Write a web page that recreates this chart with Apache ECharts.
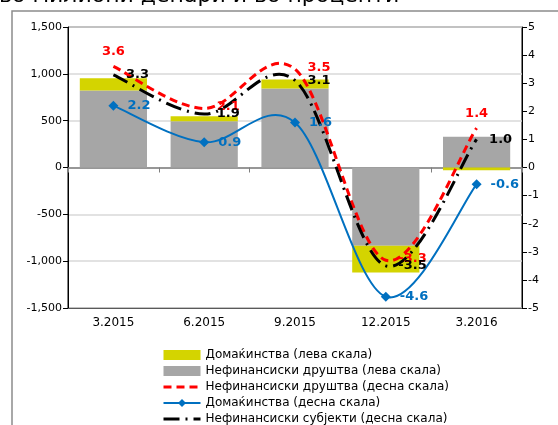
<!DOCTYPE html>
<html>
<head>
<meta charset="utf-8">
<script src="https://cdn.jsdelivr.net/npm/echarts@6/dist/echarts.min.js"></script>
<style>html,body{margin:0;padding:0;background:#fff}#c{width:558px;height:425px}</style>
</head>
<body>
<div id="c"></div>
<script>
const titleText = 'во милиони денари и во проценти';
const categories = ['3.2015', '6.2015', '9.2015', '12.2015', '3.2016'];
const hhLeft = [130, 55, 97, -286, -30];
const nfcLeft = [822, 493, 843, -836, 329];
const nfcRight = [3.6, 2.1, 3.5, -3.3, 1.4];
const hhRight = [2.2, 0.9, 1.6, -4.6, -0.6];
const nfsRight = [3.3, 1.9, 3.1, -3.5, 1.0];
const leftTicks = { min: -1500, max: 1500, interval: 500 };
const rightTicks = { min: -5, max: 5, interval: 1 };
const names = [
  'Домаќинства (лева скала)',
  'Нефинансиски друштва (лева скала)',
  'Нефинансиски друштва (десна скала)',
  'Домаќинства (десна скала)',
  'Нефинансиски субјекти (десна скала)'
];

const FONT = 'DejaVu Sans';
const RED = '#ff0000', BLUE = '#0070c0', BLACK = '#000000';
const RED_DASH = [8, 5], BLACK_DASH = [16, 6, 2, 6];
const chart = echarts.init(document.getElementById('c'), null, { renderer: 'canvas' });
const fmt = v => v.toLocaleString('en-US');
const lbl = (color, dist) => ({ show: true, position: 'right', distance: dist, color: color, fontFamily: FONT, fontWeight: 'bold', fontSize: 13, formatter: p => p.value.toFixed(1) });

// Smooth (Catmull-Rom style) curve through the library-mapped points
function curve(name, arr, color, width, dash, z) {
  return {
    name: name + '#curve', type: 'custom', xAxisIndex: 0, yAxisIndex: 1, data: arr, z: z, silent: true,
    renderItem: (params, api) => {
      if (params.dataIndex !== 0) return null;
      const pts = arr.map((v, i) => api.coord([i, v]));
      const n = pts.length;
      let d = 'M' + pts[0][0] + ',' + pts[0][1];
      for (let i = 0; i < n - 1; i++) {
        const p0 = pts[Math.max(i - 1, 0)], p1 = pts[i], p2 = pts[i + 1], p3 = pts[Math.min(i + 2, n - 1)];
        const c1 = [p1[0] + (p2[0] - p0[0]) / 6, p1[1] + (p2[1] - p0[1]) / 6];
        const c2 = [p2[0] - (p3[0] - p1[0]) / 6, p2[1] - (p3[1] - p1[1]) / 6];
        d += ' C' + c1[0] + ',' + c1[1] + ' ' + c2[0] + ',' + c2[1] + ' ' + p2[0] + ',' + p2[1];
      }
      return { type: 'path', shape: { pathData: d }, style: { stroke: color, lineWidth: width, lineDash: dash, fill: null } };
    }
  };
}

chart.setOption({
  animation: false,
  title: { text: titleText, left: -1, top: -15, padding: 0, textStyle: { fontFamily: FONT, fontSize: 22, fontWeight: 'normal', color: '#000' } },
  graphic: [
    { type: 'polyline', shape: { points: [[12, 425], [12, 11], [558, 11]] }, style: { stroke: '#8c8c8c', lineWidth: 1.5, fill: null } }
  ],
  grid: { left: 68, right: 36, top: 27, bottom: 117, show: true, borderColor: '#000', borderWidth: 1 },
  legend: {
    orient: 'vertical', left: 162, top: 349, height: 120, padding: 0, itemWidth: 37, itemHeight: 10, itemGap: 4,
    textStyle: { fontFamily: FONT, fontSize: 12, lineHeight: 12, color: '#000' },
    data: [
      { name: names[0], icon: 'rect' },
      { name: names[1], icon: 'rect' },
      { name: names[2], itemStyle: { opacity: 0 }, lineStyle: { color: RED, width: 3, type: RED_DASH, opacity: 1 } },
      { name: names[3], lineStyle: { color: BLUE, width: 2, type: 'solid', opacity: 1 } },
      { name: names[4], itemStyle: { opacity: 0 }, lineStyle: { color: BLACK, width: 3, type: BLACK_DASH, opacity: 1 } }
    ]
  },
  xAxis: [
    { type: 'category', data: categories, position: 'bottom', axisLine: { onZero: false, show: true, lineStyle: { color: '#595959' } }, axisTick: { show: false },
      axisLabel: { fontFamily: FONT, fontSize: 12, color: '#000', margin: 9 } },
    { type: 'category', data: categories, position: 'bottom', axisLine: { onZero: true, lineStyle: { color: '#7f7f7f', width: 1.5 } },
      axisTick: { show: true, length: 5, lineStyle: { color: '#7f7f7f' } }, axisLabel: { show: false } }
  ],
  yAxis: [
    { type: 'value', min: leftTicks.min, max: leftTicks.max, interval: leftTicks.interval,
      axisLine: { show: true, lineStyle: { color: '#000' } }, axisTick: { show: true, length: 5, lineStyle: { color: '#000' } },
      axisLabel: { fontFamily: FONT, fontSize: 11, color: '#000', margin: 6, formatter: fmt },
      splitLine: { show: true, lineStyle: { color: '#d9d9d9', width: 1.5 } } },
    { type: 'value', min: rightTicks.min, max: rightTicks.max, interval: rightTicks.interval, position: 'right',
      axisLine: { show: true, lineStyle: { color: '#000' } }, axisTick: { show: true, length: 5, lineStyle: { color: '#000' } },
      axisLabel: { fontFamily: FONT, fontSize: 11, color: '#000', margin: 6 },
      splitLine: { show: false } }
  ],
  series: [
    { name: names[1], type: 'bar', stack: 'b', data: nfcLeft, barCategoryGap: '26%', itemStyle: { color: '#a6a6a6' }, z: 2 },
    { name: names[0], type: 'bar', stack: 'b', data: hhLeft, itemStyle: { color: '#d4d400' }, z: 2 },
    curve(names[2], nfcRight, RED, 3, RED_DASH, 4),
    curve(names[3], hhRight, BLUE, 2, null, 5),
    curve(names[4], nfsRight, BLACK, 3, BLACK_DASH, 6),
    { name: names[2], type: 'line', yAxisIndex: 1, symbol: 'circle', symbolSize: 1, showAllSymbol: true, z: 7,
      lineStyle: { color: RED, width: 3, type: RED_DASH, opacity: 0 }, itemStyle: { color: 'rgba(0,0,0,0)' },
      data: nfcRight.map((v, i) => ({ value: v, label: (i === 0 || i === 4) ? { position: 'top', distance: 8 } : { position: 'right', offset: [0, -2] } })),
      label: lbl(RED, 12) },
    { name: names[3], type: 'line', yAxisIndex: 1, symbol: 'diamond', symbolSize: 10, showAllSymbol: true, z: 8,
      lineStyle: { color: BLUE, width: 2, opacity: 0 }, itemStyle: { color: BLUE },
      data: hhRight, label: lbl(BLUE, 9) },
    { name: names[4], type: 'line', yAxisIndex: 1, symbol: 'circle', symbolSize: 1, showAllSymbol: true, z: 9,
      lineStyle: { color: BLACK, width: 3, type: BLACK_DASH, opacity: 0 }, itemStyle: { color: 'rgba(0,0,0,0)' },
      data: nfsRight, label: lbl(BLACK, 12) }
  ]
});
</script>
</body>
</html>
